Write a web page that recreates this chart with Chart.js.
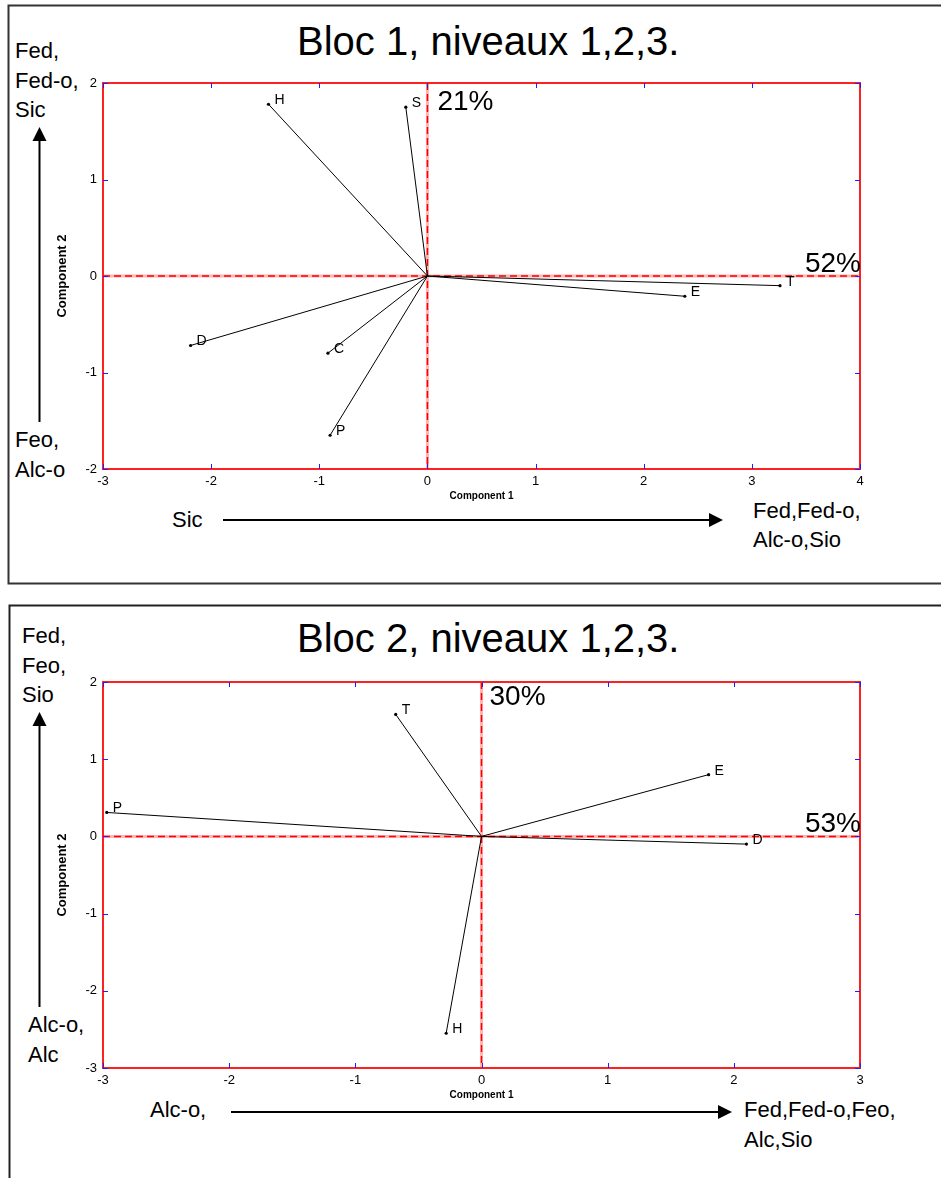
<!DOCTYPE html>
<html>
<head>
<meta charset="utf-8">
<script src="https://cdn.jsdelivr.net/npm/chart.js@4"></script>
<style>
    body { margin: 0; background: #fff; }
    #page { position: relative; width: 941px; height: 1178px; overflow: hidden; }
    #page canvas { position: absolute; left: 0; }
    #page svg { position: absolute; left: 0; top: 0; }
    svg text { font-family: "Liberation Sans", Arial, sans-serif; fill: #000; }
</style>
</head>
<body>
<div id="page">
    <svg width="941" height="1178">
        <!-- frames -->
        <rect x="8.5" y="5.5" width="960" height="578" fill="none" stroke="#333" stroke-width="2"/>
        <rect x="9.5" y="605.5" width="960" height="700" fill="none" stroke="#222" stroke-width="2"/>

        <!-- Bloc 1 -->
        <text x="297" y="55" font-size="40">Bloc 1, niveaux 1,2,3.</text>
        <text x="15" y="58" font-size="22">Fed,</text>
        <text x="15" y="88" font-size="22">Fed-o,</text>
        <text x="15" y="117" font-size="22">Sic</text>
        <line x1="39.5" y1="140" x2="39.5" y2="422" stroke="#000" stroke-width="2"/>
        <polygon points="39.5,127 32.5,141 46.5,141" fill="#000"/>
        <text x="15" y="447" font-size="22">Feo,</text>
        <text x="15" y="477" font-size="22">Alc-o</text>
        <text x="172" y="527" font-size="22">Sic</text>
        <line x1="223" y1="520" x2="711" y2="520" stroke="#000" stroke-width="2"/>
        <polygon points="723,520 709,513 709,527" fill="#000"/>
        <text x="753" y="518" font-size="22">Fed,Fed-o,</text>
        <text x="753" y="547" font-size="22">Alc-o,Sio</text>

        <!-- Bloc 2 -->
        <text x="297" y="652" font-size="40">Bloc 2, niveaux 1,2,3.</text>
        <text x="22" y="643" font-size="22">Fed,</text>
        <text x="22" y="673" font-size="22">Feo,</text>
        <text x="22" y="702" font-size="22">Sio</text>
        <line x1="39.5" y1="725" x2="39.5" y2="1007" stroke="#000" stroke-width="2"/>
        <polygon points="39.5,712 32.5,726 46.5,726" fill="#000"/>
        <text x="28" y="1032" font-size="22">Alc-o,</text>
        <text x="28" y="1062" font-size="22">Alc</text>
        <text x="150" y="1117" font-size="22">Alc-o,</text>
        <line x1="231" y1="1112" x2="719" y2="1112" stroke="#000" stroke-width="2"/>
        <polygon points="732,1112 718,1105 718,1119" fill="#000"/>
        <text x="744" y="1117" font-size="22">Fed,Fed-o,Feo,</text>
        <text x="744" y="1147" font-size="22">Alc,Sio</text>
    </svg>
    <canvas id="bloc1" width="941" height="590" style="top:0"></canvas>
    <canvas id="bloc2" width="941" height="588" style="top:590px"></canvas>
</div>

<script>
// Bloc 1 loadings (component 1, component 2)
const bloc1Vars = ['H', 'S', 'T', 'E', 'D', 'C', 'P'];
const bloc1X = [-1.47, -0.20, 3.26, 2.38, -2.19, -0.92, -0.90];
const bloc1Y = [1.78, 1.75, -0.10, -0.21, -0.72, -0.80, -1.65];
const bloc1XRange = [-3, 4];
const bloc1YRange = [-2, 2];
const bloc1Pct = ['52%', '21%'];

// Bloc 2 loadings
const bloc2Vars = ['P', 'T', 'E', 'D', 'H'];
const bloc2X = [-2.97, -0.68, 1.80, 2.10, -0.28];
const bloc2Y = [0.31, 1.58, 0.80, -0.10, -2.55];
const bloc2XRange = [-3, 3];
const bloc2YRange = [-3, 2];
const bloc2Pct = ['53%', '30%'];

const FONT = '"Liberation Sans", Arial, sans-serif';

// frame, zero lines, inward ticks, vector labels, percentages
const biplotDecor = {
    id: 'biplotDecor',
    beforeDatasetsDraw: function (chart)
    {
        const ctx = chart.ctx, a = chart.chartArea;
        const x0 = chart.scales.x.getPixelForValue(0);
        const y0 = chart.scales.y.getPixelForValue(0);
        ctx.save();
        ctx.strokeStyle = 'rgba(255, 120, 120, 0.55)';
        ctx.lineWidth = 3;
        ctx.beginPath();
        ctx.moveTo(x0, a.top); ctx.lineTo(x0, a.bottom);
        ctx.moveTo(a.left, y0); ctx.lineTo(a.right, y0);
        ctx.stroke();
        ctx.strokeStyle = '#ff0000';
        ctx.lineWidth = 1.5;
        ctx.setLineDash([7, 4]);
        ctx.beginPath();
        ctx.moveTo(x0, a.top); ctx.lineTo(x0, a.bottom);
        ctx.moveTo(a.left, y0); ctx.lineTo(a.right, y0);
        ctx.stroke();
        ctx.restore();
    },
    afterDraw: function (chart, args, opts)
    {
        const ctx = chart.ctx, a = chart.chartArea;
        const sx = chart.scales.x, sy = chart.scales.y;
        ctx.save();

        // red frame
        ctx.strokeStyle = '#ff2020';
        ctx.lineWidth = 2;
        ctx.strokeRect(a.left, a.top, a.right - a.left, a.bottom - a.top);

        // blue inward ticks on all four sides
        ctx.strokeStyle = '#2020ff';
        ctx.lineWidth = 1;
        ctx.beginPath();
        sx.ticks.forEach(function (t) {
            const px = Math.round(sx.getPixelForValue(t.value)) + 0.5;
            ctx.moveTo(px, a.top); ctx.lineTo(px, a.top + 5);
            ctx.moveTo(px, a.bottom); ctx.lineTo(px, a.bottom - 5);
        });
        sy.ticks.forEach(function (t) {
            const py = Math.round(sy.getPixelForValue(t.value)) + 0.5;
            ctx.moveTo(a.left, py); ctx.lineTo(a.left + 5, py);
            ctx.moveTo(a.right, py); ctx.lineTo(a.right - 5, py);
        });
        ctx.stroke();

        // variable names at vector tips
        ctx.fillStyle = '#000';
        ctx.font = '14px ' + FONT;
        ctx.textAlign = 'left';
        ctx.textBaseline = 'alphabetic';
        chart.data.datasets.forEach(function (ds, i) {
            const tip = chart.getDatasetMeta(i).data[1];
            ctx.fillText(ds.label, tip.x + 6, tip.y);
        });

        // explained variance
        const x0 = sx.getPixelForValue(0);
        const y0 = sy.getPixelForValue(0);
        ctx.font = '28px ' + FONT;
        ctx.fillText(opts.pctY, x0 + opts.dx, a.top + opts.dy);
        ctx.textAlign = 'right';
        ctx.fillText(opts.pctX, a.right + 1, y0 - 4);
        ctx.restore();
    }
};

function makeBiplot(id, vars, xs, ys, xRange, yRange, pct, pad, pctOff)
{
    const datasets = vars.map(function (v, i) {
        return {
            label: v,
            data: [{ x: 0, y: 0 }, { x: xs[i], y: ys[i] }],
            showLine: true,
            borderColor: '#000',
            borderWidth: 1,
            pointRadius: [0, 1.6],
            pointBackgroundColor: '#000',
            pointBorderWidth: 0
        };
    });
    const tickFont = { family: FONT, size: 13 };
    return new Chart(document.getElementById(id), {
        type: 'scatter',
        data: { datasets: datasets },
        options: {
            responsive: false,
            animation: false,
            layout: { padding: pad },
            plugins: {
                legend: { display: false },
                tooltip: { enabled: false },
                biplotDecor: { pctX: pct[0], pctY: pct[1], dx: pctOff[0], dy: pctOff[1] }
            },
            scales: {
                x: {
                    type: 'linear',
                    min: xRange[0], max: xRange[1],
                    grid: { display: false, drawTicks: false },
                    border: { display: false },
                    ticks: { stepSize: 1, padding: 5, color: '#000', font: tickFont },
                    title: { display: true, text: 'Component 1', color: '#000', padding: 0,
                             font: { family: FONT, size: 10, weight: 'bold' } },
                    afterFit: function (s) { s.height = 33; }
                },
                y: {
                    type: 'linear',
                    min: yRange[0], max: yRange[1],
                    grid: { display: false, drawTicks: false },
                    border: { display: false },
                    ticks: { stepSize: 1, padding: 6, color: '#000', font: tickFont },
                    title: { display: true, text: 'Component 2', color: '#000', padding: 0,
                             font: { family: FONT, size: 13, weight: 'bold' } },
                    afterFit: function (s) { s.width = 48; }
                }
            }
        },
        plugins: [biplotDecor]
    });
}

makeBiplot('bloc1', bloc1Vars, bloc1X, bloc1Y, bloc1XRange, bloc1YRange, bloc1Pct,
           { left: 55, right: 81, top: 83, bottom: 88 }, [10, 27]);
makeBiplot('bloc2', bloc2Vars, bloc2X, bloc2Y, bloc2XRange, bloc2YRange, bloc2Pct,
           { left: 55, right: 81, top: 92, bottom: 77 }, [8, 23]);
</script>
</body>
</html>
